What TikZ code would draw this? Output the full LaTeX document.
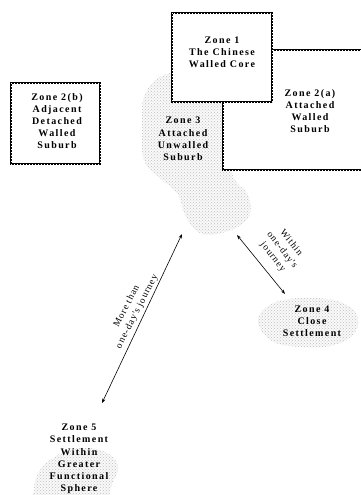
\documentclass[tikz,border=0pt]{standalone}
\usepackage{fontspec}
\setmainfont{Liberation Serif}
\newfontfamily\zfont[LetterSpace=14]{Liberation Serif}
\newfontfamily\jfont[LetterSpace=10]{Liberation Serif}
\usetikzlibrary{patterns,arrows.meta}
\tikzset{
  wallline/.style={draw=black, line width=2.8pt},
  walldots/.style={draw=white, line width=0.7pt, dash pattern=on 0.7pt off 2.3pt},
  stipple/.style={pattern=crosshatch dots, pattern color=gray!50},
  stipbg/.style={fill=gray!5},
  zonetext/.style={align=center, inner sep=0pt, font=\zfont\bfseries\fontsize{10}{12.2}\selectfont},
  jlabel/.style={align=center, inner sep=0pt, font=\jfont\fontsize{9.5}{11.5}\selectfont},
  conn/.style={{Stealth[length=4.5pt,width=3.2pt]}-{Stealth[length=4.5pt,width=3.2pt]}, line width=0.6pt}
}
\begin{document}
\begin{tikzpicture}[x=1pt,y=-1pt]
\useasboundingbox (0,0) rectangle (361,495);
\clip (0,0) rectangle (361,495);
% Zone 3 blob
\path[stipbg] plot[smooth cycle, tension=0.7] coordinates {(170,73) (205,78) (228,110) (232,172) (248,195) (248,218) (225,232) (200,233) (185,215) (178,195) (160,178) (144,160) (142,125) (146,92)};
\path[stipple] plot[smooth cycle, tension=0.7] coordinates {(170,73) (205,78) (228,110) (232,172) (248,195) (248,218) (225,232) (200,233) (185,215) (178,195) (160,178) (144,160) (142,125) (146,92)};
% Zone 4 blob
\path[stipbg] plot[smooth cycle, tension=0.7] coordinates {(258,322) (268,306) (290,299) (318,298) (345,304) (358,318) (352,336) (330,346) (300,347) (272,341)};
\path[stipple] plot[smooth cycle, tension=0.7] coordinates {(258,322) (268,306) (290,299) (318,298) (345,304) (358,318) (352,336) (330,346) (300,347) (272,341)};
% Zone 5 blob
\path[stipbg] plot[smooth cycle, tension=0.7] coordinates {(34,490) (40,470) (58,455) (80,448) (105,452) (118,466) (112,484) (100,500) (40,500)};
\path[stipple] plot[smooth cycle, tension=0.7] coordinates {(34,490) (40,470) (58,455) (80,448) (105,452) (118,466) (112,484) (100,500) (40,500)};
% Zone 2(a) box
\fill[white] (223,50) rectangle (370,170);
\draw[wallline] (223,50) rectangle (370,170);
\draw[walldots] (223,50) rectangle (370,170);
% Zone 1 box
\fill[white] (172,13) rectangle (272,102);
\draw[wallline] (172,13) rectangle (272,102);
\draw[walldots] (172,13) rectangle (272,102);
% Zone 2(b) box
\draw[wallline] (11,83) rectangle (100,164);
\draw[walldots] (11,83) rectangle (100,164);
% texts
\node[zonetext] (z1) at (222,52) {Zone 1\\The Chinese\\Walled Core};
\node[zonetext] (z2a) at (310,111) {Zone 2(a)\\Attached\\Walled\\Suburb};
\node[zonetext] (z2b) at (57,121) {Zone 2(b)\\Adjacent\\Detached\\Walled\\Suburb};
\node[zonetext] (z3) at (183,139) {Zone 3\\Attached\\Unwalled\\Suburb};
\node[zonetext] (z4) at (312,321) {Zone 4\\Close\\Settlement};
\node[zonetext] (z5) at (79,459) {Zone 5\\Settlement\\Within\\Greater\\Functional\\Sphere};
% connectors
\coordinate (a3l) at (182,234);
\coordinate (a5) at (102,403);
\coordinate (a3r) at (237,235);
\coordinate (a4) at (285,294);
\draw[conn] (a5) -- (a3l);
\draw[conn] (a3r) -- (a4);
\node[jlabel, rotate=63] (lmore) at (132,309) {More than\\one-day's journey};
\node[jlabel, rotate=-52] (lwithin) at (282,250) {Within\\one-day's\\journey};
\end{tikzpicture}
\end{document}
